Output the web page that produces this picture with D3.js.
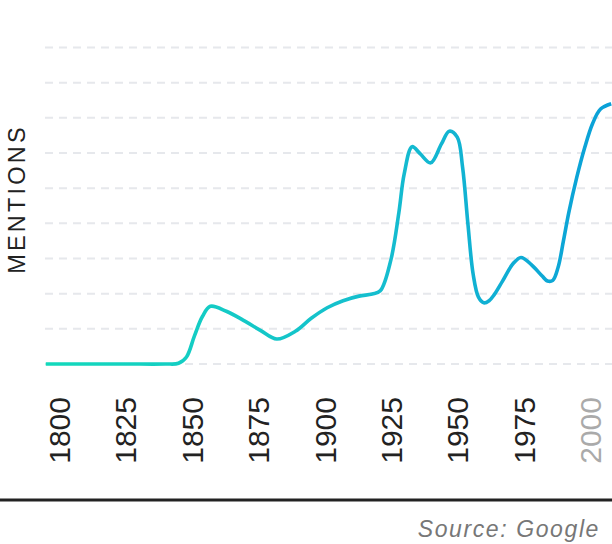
<!DOCTYPE html>
<html>
<head>
<meta charset="utf-8">
<script src="https://cdn.jsdelivr.net/npm/d3@7/dist/d3.min.js"></script>
<style>
  html, body { margin: 0; padding: 0; background: #fff; }
  svg { display: block; font-family: "Liberation Sans", Arial, Helvetica, sans-serif; }
</style>
</head>
<body>
<div id="chart"></div>
<script>
// ---- data ----
const years  = [1795, 1810, 1825, 1840, 1845, 1848, 1851, 1854, 1857, 1863, 1870, 1876, 1882, 1889, 1895, 1901, 1907, 1913, 1918, 1921, 1925, 1928, 1930, 1933, 1936, 1940, 1944, 1947, 1950, 1952, 1954, 1956, 1958, 1960, 1962, 1964, 1967, 1971, 1974, 1978, 1982, 1984, 1986, 1988, 1990, 1992, 1995, 1998, 2001, 2004, 2008];
const values = [0,    0,    0,    0,    0.02, 0.2,  0.8,  1.35, 1.64, 1.5,  1.22, 0.95, 0.71, 0.93, 1.3,  1.6,  1.8,  1.93, 1.99, 2.08, 2.96, 4.3,  5.4,  6.18, 5.98, 5.72, 6.25, 6.62, 6.45, 5.6,  4.0,  2.55, 1.9,  1.74, 1.8,  1.98, 2.35, 2.85, 3.03, 2.82, 2.5,  2.36, 2.38, 2.75, 3.5,  4.3,  5.3,  6.15, 6.84, 7.25, 7.4];
const tickYears = [1800, 1825, 1850, 1875, 1900, 1925, 1950, 1975, 2000];
const gridValues = [0, 1, 2, 3, 4, 5, 6, 7, 8, 9];
const yLabel = "MENTIONS";
const sourceText = "Source: Google";

// ---- layout ----
const W = 612, H = 544;
const svg = d3.select("#chart").append("svg").attr("width", W).attr("height", H);

const x = d3.scaleLinear().domain([1794.7, 2008.3]).range([45, 612]);
const y = d3.scaleLinear().domain([0, 9]).range([364, 47.5]);

// gradient
const defs = svg.append("defs");
const grad = defs.append("linearGradient")
  .attr("id", "lineGrad").attr("gradientUnits", "userSpaceOnUse")
  .attr("x1", 45).attr("x2", 612).attr("y1", 0).attr("y2", 0);
grad.append("stop").attr("offset", "0%").attr("stop-color", "#13d9bb");
grad.append("stop").attr("offset", "60%").attr("stop-color", "#15bdcf");
grad.append("stop").attr("offset", "100%").attr("stop-color", "#0aa0d8");

// gridlines
svg.append("g").selectAll("line").data(gridValues).join("line")
  .attr("x1", 45).attr("x2", W)
  .attr("y1", d => y(d)).attr("y2", d => y(d))
  .attr("stroke", "#e6e8ec").attr("stroke-width", 2)
  .attr("stroke-dasharray", "8,6");

// line
const pts = years.map((yr, i) => [yr, values[i]]);
const line = d3.line().x(d => x(d[0])).y(d => y(d[1])).curve(d3.curveCatmullRom.alpha(0.5));
svg.append("path").datum(pts)
  .attr("d", line)
  .attr("fill", "none")
  .attr("stroke", "url(#lineGrad)")
  .attr("stroke-width", 3.6)
  .attr("stroke-linejoin", "round")
  .attr("stroke-linecap", "butt");

// x axis
const xAxis = d3.axisBottom(x).tickValues(tickYears).tickSize(0).tickFormat(d3.format("d"));
const gx = svg.append("g").attr("transform", "translate(0,397)").call(xAxis);
gx.select(".domain").remove();
gx.selectAll("text")
  .attr("transform", "rotate(-90)")
  .attr("x", 0).attr("y", 0)
  .attr("dy", "0.35em")
  .attr("text-anchor", "end")
  .attr("font-family", "'Liberation Sans', Arial, sans-serif")
  .attr("font-size", 30)
  .attr("fill", d => d === 2000 ? "#aaaaaa" : "#222222");

// y label
svg.append("text")
  .attr("transform", "translate(24.5,199) rotate(-90)")
  .attr("text-anchor", "middle")
  .attr("font-size", 23.5)
  .attr("letter-spacing", 3.2)
  .attr("fill", "#222")
  .text(yLabel);

// bottom rule
svg.append("line")
  .attr("x1", 0).attr("x2", W).attr("y1", 500).attr("y2", 500)
  .attr("stroke", "#222").attr("stroke-width", 3);

// source
svg.append("text")
  .attr("x", 600).attr("y", 537)
  .attr("text-anchor", "end")
  .attr("font-size", 23)
  .attr("font-style", "italic")
  .attr("letter-spacing", 1.6)
  .attr("fill", "#777")
  .text(sourceText);
</script>
</body>
</html>
